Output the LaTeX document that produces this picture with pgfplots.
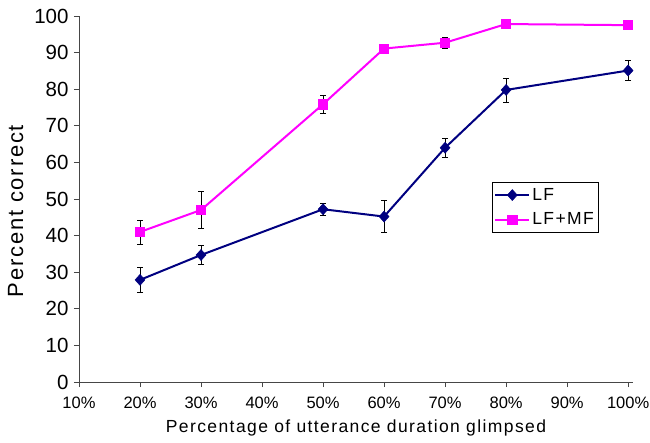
\documentclass[border=0pt]{standalone}
\usepackage{pgfplots}
\pgfplotsset{compat=1.18}
\usepackage{fontspec}
\setmainfont{Liberation Sans}
\newfontfamily\spaced[LetterSpace=8]{Liberation Sans}
\definecolor{lfblue}{RGB}{0,0,128}
\definecolor{mfpink}{RGB}{255,0,255}
\definecolor{axgray}{RGB}{70,70,70}
\begin{document}
\begin{tikzpicture}
\path[use as bounding box] (-79pt,-60pt) rectangle (571pt,382pt);
\begin{axis}[
  at={(0pt,0pt)}, anchor=south west,
  scale only axis, width=554pt, height=366pt,
  xmin=10, xmax=100.8, ymin=0, ymax=100,
  axis x line=bottom, axis y line=left,
  axis line style={axgray, line width=0.9pt, -},
  xtick={10,20,...,100}, ytick={0,10,...,100},
  tick style={axgray, line width=0.8pt},
  tick align=outside, major tick length=5pt,
  /pgf/number format/assume math mode=true,
  xticklabel={\pgfmathprintnumber{\tick}\%},
  xticklabel style={font=\fontsize{16.5}{18}\selectfont, yshift=-6pt},
  yticklabel style={font=\fontsize{20.5}{22}\selectfont, xshift=-2pt},
  xlabel={Percentage of utterance duration glimpsed},
  ylabel={Percent correct},
  xlabel style={font=\spaced\fontsize{17.5}{20}\selectfont, yshift=-5pt},
  ylabel style={font=\spaced\fontsize{22}{24}\selectfont, yshift=4pt, xshift=-12pt},
  legend style={at={(413pt,200pt)}, anchor=north west, draw=black, line width=0.6pt,
    font=\spaced\fontsize{17.5}{20}\selectfont, inner xsep=2pt, inner ysep=4pt, row sep=7pt},
  legend cell align=left,
  legend image code/.code={\draw[mark repeat=2, mark phase=2, #1] plot coordinates {(0pt,0pt)(17pt,0pt)(34pt,0pt)};},
  clip=false,
]
\addplot[lfblue, line width=2pt, mark=diamond*, mark size=5.5pt,
  mark options={solid, fill=lfblue, draw=lfblue, line width=0.5pt, xscale=1.2},
  error bars/.cd, y dir=both, y explicit,
  error bar style={black, line width=0.7pt},
  error mark options={rotate=90, mark size=3pt, black, line width=0.7pt}]
  coordinates {
  (20,27.9) +- (0,3.4)
  (30,34.7) +- (0,2.6)
  (50,47.2) +- (0,1.6)
  (60,45.2) +- (0,4.3)
  (70,64.0) +- (0,2.7)
  (80,79.8) +- (0,3.3)
  (100,85.1) +- (0,2.8)
  };
\addlegendentry{LF}
\addplot[mfpink, line width=2pt, mark=square*, mark size=4.6pt,
  mark options={solid, fill=mfpink, draw=mfpink, line width=0.5pt},
  error bars/.cd, y dir=both, y explicit,
  error bar style={black, line width=0.7pt},
  error mark options={rotate=90, mark size=3pt, black, line width=0.7pt}]
  coordinates {
  (20,41.0) +- (0,3.3)
  (30,47.0) +- (0,5.0)
  (50,75.9) +- (0,2.4)
  (60,91.1) +- (0,0.5)
  (70,92.7) +- (0,1.6)
  (80,97.8) +- (0,0.5)
  (100,97.5) +- (0,0.5)
  };
\addlegendentry{LF+MF}
\end{axis}
\end{tikzpicture}
\end{document}
